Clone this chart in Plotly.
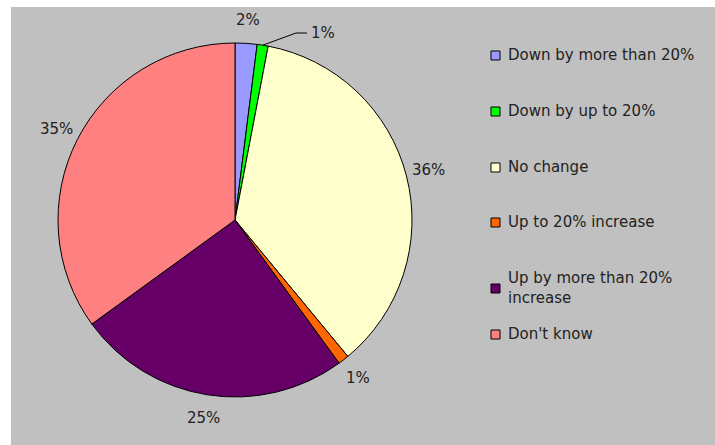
import math
import plotly.graph_objects as go

# Survey responses: expected change
categories = [
    "Down by more than 20%",
    "Down by up to 20%",
    "No change",
    "Up to 20% increase",
    "Up by more than 20%<br>increase",
    "Don't know",
]
shares = [2, 1, 36, 1, 25, 35]
colors = ["#9999FF", "#00FF00", "#FFFFCC", "#FF6600", "#660066", "#FF8080"]

W, H = 715, 445
FONT = "DejaVu Sans, Verdana, sans-serif"
TEXT = "#222222"

# pie geometry in pixels (y measured from the top)
CX, CY, R = 235, 220, 177
LABEL_R = 200


def px(x, y):
    return x / W, 1 - y / H


fig = go.Figure()
fig.add_trace(go.Pie(
    labels=categories,
    values=shares,
    sort=False,
    direction="clockwise",
    rotation=0,
    marker=dict(colors=colors, line=dict(color="#000000", width=1)),
    textinfo="none",
    showlegend=False,
    hoverinfo="label+percent",
    domain=dict(x=[(CX - R) / W, (CX + R) / W],
                y=[1 - (CY + R) / H, 1 - (CY - R) / H]),
))

shapes = [dict(type="rect", xref="paper", yref="paper",
               x0=11 / W, x1=1, y0=0, y1=1 - 7 / H,
               fillcolor="#C0C0C0", line=dict(width=0), layer="below")]
annotations = []

# percentage labels around the pie
total = sum(shares)
cum = 0
for i, v in enumerate(shares):
    mid = (cum + v / 2) / total * 2 * math.pi
    cum += v
    sx, sy = math.sin(mid), -math.cos(mid)
    if i == 1:
        # thin slice: label pulled aside with a leader line
        ex, ey = CX + R * sx, CY + R * sy
        lx, ly = 309, 33
        bx = lx - 13
        x0, y0 = px(ex, ey)
        x1, y1 = px(bx, ly)
        x2, y2 = px(lx - 2, ly)
        shapes.append(dict(type="path", xref="paper", yref="paper",
                           path=f"M {x0} {y0} L {x1} {y1} L {x2} {y2}",
                           line=dict(color="#000000", width=1)))
        ax, ay = px(lx, ly)
        annotations.append(dict(xref="paper", yref="paper", x=ax, y=ay,
                                xanchor="left", yanchor="middle",
                                text=f"{v}%", showarrow=False,
                                font=dict(family=FONT, size=15, color=TEXT)))
        continue
    ax, ay = px(CX + LABEL_R * sx, CY + LABEL_R * sy)
    annotations.append(dict(xref="paper", yref="paper", x=ax, y=ay,
                            xanchor="center", yanchor="middle",
                            text=f"{v}%", showarrow=False,
                            font=dict(family=FONT, size=15, color=TEXT)))

# legend drawn as swatch + label rows
row_y = [55, 111, 167, 222, 288, 334]
for name, col, yc in zip(categories, colors, row_y):
    x0, y0 = px(491, yc + 5)
    x1, y1 = px(500, yc - 4)
    shapes.append(dict(type="rect", xref="paper", yref="paper",
                       x0=x0, x1=x1, y0=y0, y1=y1,
                       fillcolor=col, line=dict(color="#000000", width=1)))
    tx, ty = px(506, yc)
    annotations.append(dict(xref="paper", yref="paper", x=tx, y=ty,
                            xanchor="left", yanchor="middle", align="left",
                            text=name, showarrow=False,
                            font=dict(family=FONT, size=15, color=TEXT)))

fig.update_layout(
    width=W, height=H,
    margin=dict(l=0, r=0, t=0, b=0),
    paper_bgcolor="#FFFFFF",
    plot_bgcolor="#FFFFFF",
    shapes=shapes,
    annotations=annotations,
)

fig.write_html("out.html")
